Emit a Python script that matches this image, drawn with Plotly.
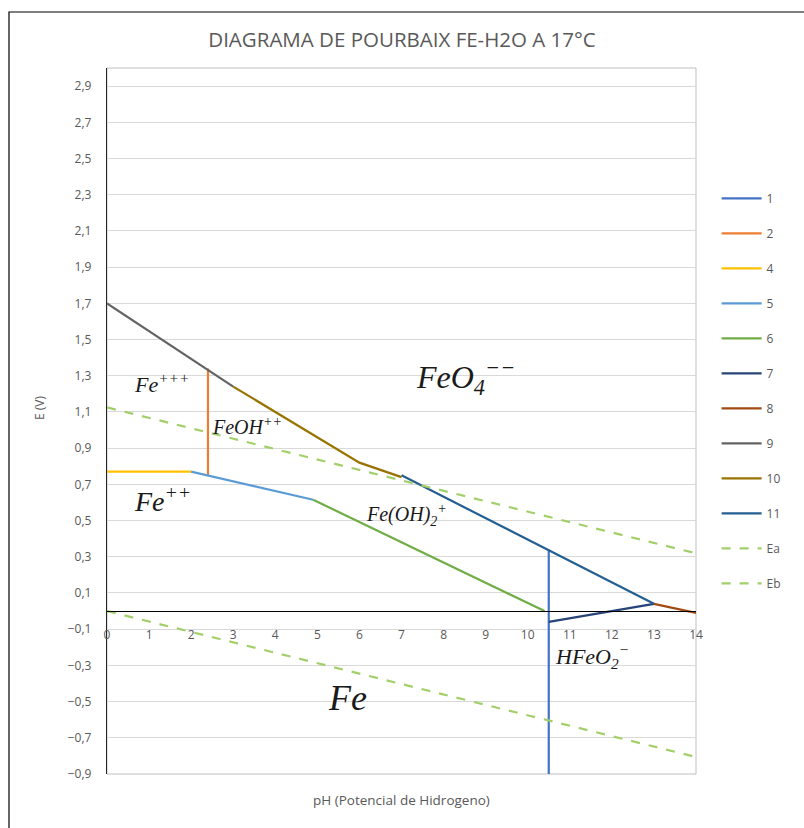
import plotly.graph_objects as go

# Pourbaix diagram Fe-H2O at 17 °C: boundary lines (pH, E in volts)
series_names = ["1", "2", "4", "5", "6", "7", "8", "9", "10", "11", "Ea", "Eb"]
series_ph = [
    [10.5, 10.5],
    [2.4, 2.4],
    [0, 2],
    [2, 4.9],
    [4.9, 10.4],
    [10.5, 13],
    [13, 14],
    [0, 3],
    [3, 6, 7],
    [7, 13],
    [0, 14],
    [0, 14],
]
series_e = [
    [0.34, -0.9],
    [0.75, 1.34],
    [0.77, 0.77],
    [0.77, 0.615],
    [0.615, 0.0],
    [-0.06, 0.04],
    [0.04, -0.01],
    [1.7, 1.24],
    [1.24, 0.82, 0.74],
    [0.75, 0.04],
    [1.125, 0.319],
    [0.0, -0.806],
]
series_colors = ["#4472C4", "#ED7D31", "#FFC000", "#5B9BD5", "#70AD47", "#264478",
                 "#A24A12", "#636363", "#997300", "#255E91", "#A3CF6A", "#A3CF6A"]
series_dash = ["solid"] * 10 + ["dash", "dash"]

# Stability region labels (species, pH, E, font size)
region_labels = [
    ("<i>Fe<sup>+++</sup></i>", 0.6, 1.26, 22),
    ("<i>FeOH<sup>++</sup></i>", 2.45, 1.025, 20),
    ("<i>Fe<sup>++</sup></i>", 0.6, 0.615, 28),
    ("<i>FeO<sub>4</sub><sup>−−</sup></i>", 7.3, 1.29, 32),
    ("<i>Fe(OH)<sub>2</sub><sup>+</sup></i>", 6.1, 0.53, 20),
    ("<i>HFeO<sub>2</sub><sup>−</sup></i>", 10.6, -0.25, 22),
    ("<i>Fe</i>", 5.2, -0.48, 36),
]

y_ticks = [round(-0.9 + 0.2 * i, 1) for i in range(20)]
x_ticks = list(range(0, 15))

fig = go.Figure()
for name, xs, ys, col, dash in zip(series_names, series_ph, series_e, series_colors, series_dash):
    fig.add_trace(go.Scatter(
        x=xs, y=ys, mode="lines", name=name, legendgroup=name,
        line=dict(color=col, width=2.2, dash=dash),
        hoverinfo="x+y",
    ))

for text, px, ey, size in region_labels:
    fig.add_annotation(
        x=px, y=ey, xref="x", yref="y", text=text, showarrow=False,
        xanchor="left", yanchor="middle",
        font=dict(family="Liberation Serif", size=size, color="#1a1a1a"),
    )

y_min, y_max = -0.9, 3.0
axis_pos = (0 - y_min) / (y_max - y_min)

grey = "#595959"
fig.update_layout(
    width=804, height=828,
    margin=dict(l=107, r=108, t=68, b=54),
    paper_bgcolor="white", plot_bgcolor="white",
    separators=",.",
    font=dict(family="Open Sans", color=grey, size=12),
    title=dict(
        text="DIAGRAMA DE POURBAIX FE-H2O A 17°C",
        x=0.5, xref="container", xanchor="center",
        y=1 - 40 / 828, yref="container", yanchor="middle",
        font=dict(family="Open Sans", size=20.5, color=grey),
    ),
    xaxis=dict(
        range=[0, 14], tickvals=x_ticks, showgrid=False, zeroline=False,
        showline=True, linecolor="#000000", linewidth=1.3,
        anchor="free", position=axis_pos,
        ticks="", ticklabelstandoff=12,
        tickfont=dict(size=12, color=grey),
    ),
    yaxis=dict(
        range=[y_min, y_max], tickvals=y_ticks, tickformat=".1f",
        showgrid=True, gridcolor="#D9D9D9", gridwidth=1, zeroline=False,
        showline=True, linecolor="#262626", linewidth=1.3,
        ticks="", ticklabelstandoff=12,
        tickfont=dict(size=12, color=grey),
    ),
    legend=dict(
        x=1.035, xanchor="left", y=0.836, yanchor="top",
        font=dict(size=12, color=grey), tracegroupgap=16,
        itemwidth=40, bgcolor="rgba(0,0,0,0)",
    ),
    showlegend=True,
)

# Plot-area frame and outer chart border
fig.add_shape(type="rect", xref="paper", yref="paper", x0=0, x1=1, y0=0, y1=1,
              line=dict(color="#BFBFBF", width=1), layer="below")
fig.add_shape(type="rect", xref="paper", yref="paper",
              x0=(9 - 107) / 589, x1=(830 - 107) / 589,
              y0=(774 - 850) / 706, y1=1 + (68 - 12) / 706,
              line=dict(color="#000000", width=1.2), layer="below")

# Axis titles
fig.add_annotation(text="pH (Potencial de Hidrogeno)", xref="paper", yref="paper",
                   x=0.5, y=(774 - 800) / 706, showarrow=False,
                   xanchor="center", yanchor="middle",
                   font=dict(size=13.5, color=grey))
fig.add_annotation(text="E (V)", xref="paper", yref="paper",
                   x=(40 - 107) / 589, y=(774 - 408) / 706, showarrow=False,
                   textangle=-90, xanchor="center", yanchor="middle",
                   font=dict(size=12, color=grey))

fig.write_html("out.html")
